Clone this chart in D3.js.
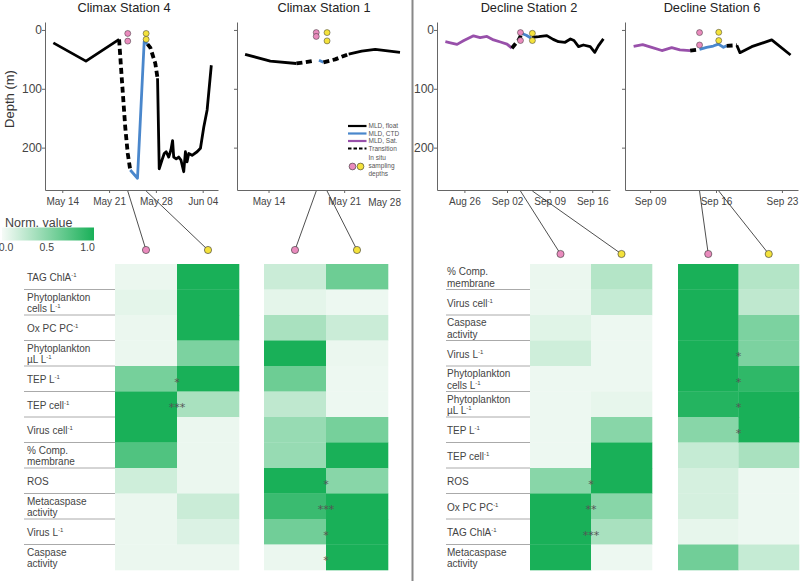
<!DOCTYPE html>
<html><head><meta charset="utf-8">
<script src="https://cdn.jsdelivr.net/npm/d3@7"></script>
<style>body{margin:0;background:#fff}svg{display:block;font-family:"Liberation Sans",Arial,sans-serif}</style>
</head><body><svg id="c" width="800" height="581"></svg>
<script>
// ---------------- DATA ----------------
// Mixed-layer depth (m) time series, [time, depth]
const c4FloatA = [["2016-05-12T16",22],["2016-05-17T13",53],["2016-05-22T12",16]];
const c4TransA = [["2016-05-22T12",16],["2016-05-22T22",85],["2016-05-23T10",165],["2016-05-23T19",210],["2016-05-24T04",238]];
const c4Ctd    = [["2016-05-24T04",238],["2016-05-25T06",252],["2016-05-26T06",20],["2016-05-26T18",24]];
const c4TransB = [["2016-05-26T18",24],["2016-05-27T04",30],["2016-05-27T22",57],["2016-05-28T06",82]];
const c4FloatB = [["2016-05-28T06",82],["2016-05-28T12",236],["2016-05-28T22",221],["2016-05-29T06",210],["2016-05-29T13",207],["2016-05-29T22",216],["2016-05-30T06",204],["2016-05-30T12",188],["2016-05-30T16",216],["2016-05-31T01",219],["2016-05-31T10",216],["2016-05-31T18",221],["2016-06-01T04",241],["2016-06-01T10",207],["2016-06-01T16",224],["2016-06-01T22",210],["2016-06-02T10",213],["2016-06-03T04",207],["2016-06-03T16",201],["2016-06-04T04",165],["2016-06-04T16",136],["2016-06-05T07",60]];

const c1FloatA = [["2016-05-11T20",41.5],["2016-05-14T04",53],["2016-05-16T14",57]];
const c1TransA = [["2016-05-16T14",57],["2016-05-17T09",55],["2016-05-18T07",52]];
const c1Ctd    = [["2016-05-18T16",51.5],["2016-05-19T02",55]];
const c1TransB = [["2016-05-19T02",55],["2016-05-20T04",50],["2016-05-21T10",41]];
const c1FloatB = [["2016-05-21T10",41],["2016-05-22T15",36],["2016-05-23T21",33],["2016-05-26T04",38]];

const d2Sat    = [["2017-08-22T21",20],["2017-08-23T17",22],["2017-08-24T19",24.5],["2017-08-25T22",18],["2017-08-27T12",10],["2017-08-28T14",13],["2017-08-29T17",11],["2017-08-30T19",17],["2017-08-31T22",20.5],["2017-09-02T00",24],["2017-09-02T19",31]];
const d2Trans  = [["2017-09-02T19",31],["2017-09-03T22",17],["2017-09-04T11",6]];
const d2Ctd    = [["2017-09-04T11",6],["2017-09-05T04",9],["2017-09-05T22",13.6]];
const d2Float  = [["2017-09-06T02",12.5],["2017-09-07T05",11.4],["2017-09-08T13",9.7],["2017-09-09T14",16],["2017-09-10T11",20],["2017-09-11T13",21],["2017-09-12T10",15.3],["2017-09-13T00",18],["2017-09-13T18",28.4],["2017-09-14T13",25.6],["2017-09-15T16",28.4],["2017-09-16T10",38],["2017-09-17T00",27],["2017-09-17T20",15.3]];

const d6Sat    = [["2017-09-07T06",28],["2017-09-08T05",25],["2017-09-09T04",29.5],["2017-09-10T06",35],["2017-09-11T07",30],["2017-09-12T04",34],["2017-09-13T06",35]];
const d6TransA = [["2017-09-13T06",35],["2017-09-14T06",33]];
const d6Ctd    = [["2017-09-14T06",33],["2017-09-15T00",29.5],["2017-09-15T17",27.3],["2017-09-16T06",24],["2017-09-16T19",29.5],["2017-09-17T03",27]];
const d6TransB = [["2017-09-17T03",27],["2017-09-18T05",26]];
const d6Float  = [["2017-09-18T05",26],["2017-09-18T13",38.6],["2017-09-19T19",28.4],["2017-09-21T22",17],["2017-09-23T22",42.6]];

// In situ sampling: [time, depth, depth] -- first = pink, second = yellow
const c4Samples = [["2016-05-23T19",6,19],["2016-05-26T13",6,16]];
const c1Samples = [["2016-05-18T10",4.5,11],["2016-05-19T10",4.5,18.6]];
const d2Samples = [["2017-09-04T05",4.5,18],["2017-09-06T04",5.7,18]];
const d6Samples = [["2017-09-14T06",4.5,25.6],["2017-09-16T07",4,18]];

// Axis ticks
const depthTicks = [0,100,200];
const c4Ticks = ["2016-05-14T00","2016-05-21T00","2016-05-28T00","2016-06-04T00"];
const c1Ticks = ["2016-05-14T00","2016-05-21T00"];
const c1ExtraTick = "May 28";
const d2Ticks = ["2017-08-26T00","2017-09-02T00","2017-09-09T00","2017-09-16T00"];
const d6Ticks = ["2017-09-09T00","2017-09-16T00","2017-09-23T00"];
const legendTicks = [0,0.5,1];

// Heatmap rows
const climaxRows = ["TAG ChlA^-1","Phytoplankton|cells L^-1","Ox PC PC^-1","Phytoplankton|µL L^-1","TEP L^-1","TEP cell^-1","Virus cell^-1","% Comp.|membrane","ROS","Metacaspase|activity","Virus L^-1","Caspase|activity"];
const declineRows = ["% Comp.|membrane","Virus cell^-1","Caspase|activity","Virus L^-1","Phytoplankton|cells L^-1","Phytoplankton|µL L^-1","TEP L^-1","TEP cell^-1","ROS","Ox PC PC^-1","TAG ChlA^-1","Metacaspase|activity"];

// Normalized values (pink sample, yellow sample)
const c4Pink   = [0.05,0.08,0.05,0.05,0.58,1.0,1.0,0.75,0.18,0.05,0.05,0.05];
const c4Yellow = [1.0,1.0,1.0,0.55,1.0,0.35,0.05,0.05,0.05,0.2,0.12,0.05];
const c1Pink   = [0.2,0.08,0.35,1.0,0.62,0.25,0.43,0.43,1.0,0.85,0.6,0.05];
const c1Yellow = [0.62,0.04,0.2,0.05,0.04,0.04,0.58,1.0,0.5,1.0,1.0,1.0];
const d2Pink   = [0.05,0.05,0.1,0.18,0.04,0.04,0.04,0.04,0.5,1.0,1.0,1.0];
const d2Yellow = [0.3,0.22,0.04,0.04,0.04,0.07,0.5,1.0,1.0,0.5,0.35,0.04];
const d6Pink   = [1.0,1.0,1.0,1.0,1.0,0.95,0.5,0.22,0.15,0.15,0.07,0.6];
const d6Yellow = [0.3,0.25,0.55,0.55,0.9,1.0,1.0,0.35,0.04,0.04,0.04,0.22];

// Significance
const c4Stars = ["","","","","*","***","","","","","",""];
const c1Stars = ["","","","","","","","","*","***","*","*"];
const d2Stars = ["","","","","","","","","*","**","***",""];
const d6Stars = ["","","","*","*","*","*","","","","",""];

// ---------------- DRAW ----------------
const svg = d3.select("#c");
const parseT = d3.timeParse("%Y-%m-%dT%H");
const fmt = d3.timeFormat("%b %d");
const P = a => a.map(d => [parseT(d[0]), d[1]]);
const col = {float:"#000", ctd:"#4a87cc", sat:"#9850aa", trans:"#000"};
const sampleCol = ["#e98bbd","#f4e23c"];
const green = d3.scaleLinear().domain([0,1]).range(["#f6fbf7","#19b058"]);
const y = d3.scaleLinear().domain([-13.5, 272]).range([22, 190]);

const panels = [
  {title:"Climax Station 4", tx:124, x0:45, x1:218, dom:["2016-05-11T10","2016-06-06T07"], ticks:c4Ticks, yLab:true,
   segs:[["float",c4FloatA],["trans",c4TransA],["ctd",c4Ctd],["trans",c4TransB],["float",c4FloatB]], samples:c4Samples,
   heat:[115,239], dotY:250, vals:[c4Pink,c4Yellow], stars:c4Stars},
  {title:"Climax Station 1", tx:324, x0:237, x1:400, dom:["2016-05-11T02","2016-05-26T04"], ticks:c1Ticks, yLab:false,
   segs:[["float",c1FloatA],["trans",c1TransA],["ctd",c1Ctd],["trans",c1TransB],["float",c1FloatB]], samples:c1Samples,
   heat:[264,388], dotY:250, vals:[c1Pink,c1Yellow], stars:c1Stars},
  {title:"Decline Station 2", tx:529, x0:437, x1:610, dom:["2017-08-21T12","2017-09-18T22"], ticks:d2Ticks, yLab:true,
   segs:[["sat",d2Sat],["trans",d2Trans],["ctd",d2Ctd],["float",d2Float]], samples:d2Samples,
   heat:[530,652], dotY:254, vals:[d2Pink,d2Yellow], stars:d2Stars},
  {title:"Decline Station 6", tx:712, x0:625, x1:798, dom:["2017-09-06T08","2017-09-24T17"], ticks:d6Ticks, yLab:false,
   segs:[["sat",d6Sat],["trans",d6TransA],["ctd",d6Ctd],["trans",d6TransB],["float",d6Float]], samples:d6Samples,
   heat:[678,799], dotY:254, vals:[d6Pink,d6Yellow], stars:d6Stars}
];

const rowBand = d3.scaleBand().domain(d3.range(12)).range([264, 570]);

panels.forEach((p, pi) => {
  const x = d3.scaleTime().domain(p.dom.map(parseT)).range([p.x0, p.x1]);
  const g = svg.append("g");
  g.append("text").attr("x", p.tx).attr("y", 12).attr("text-anchor","middle")
    .attr("font-size", 12.8).attr("fill","#222").text(p.title);

  const xa = d3.axisBottom(x).tickValues(p.ticks.map(parseT)).tickFormat(fmt)
    .tickSize(3).tickPadding(5).tickSizeOuter(0);
  const gx = g.append("g").attr("transform","translate(0,190)").call(xa);
  gx.selectAll("text").attr("font-size",10).attr("fill","#444").attr("font-family","Liberation Sans, Arial, sans-serif");
  if (pi === 1) {
    gx.append("text").attr("x", p.x1 + 1).attr("y", 16).attr("text-anchor","end")
      .attr("font-size",10).attr("fill","#444").text(c1ExtraTick);
  }
  const ya = d3.axisLeft(y).tickValues(depthTicks).tickSize(3).tickPadding(0).tickSizeOuter(0)
    .tickFormat(p.yLab ? d3.format("d") : () => "");
  const gy = g.append("g").attr("transform",`translate(${p.x0},0)`).call(ya);
  gy.selectAll("text").attr("font-size",12).attr("fill","#444").attr("font-family","Liberation Sans, Arial, sans-serif");
  g.selectAll(".domain, .tick line").attr("stroke","#666");

  const line = d3.line().x(d => x(d[0])).y(d => y(d[1]));
  p.segs.forEach(([type, arr]) => {
    g.append("path").datum(P(arr)).attr("d", line).attr("fill","none")
      .attr("stroke", col[type]).attr("stroke-width", type === "trans" ? 3.8 : 2.8)
      .attr("stroke-dasharray", type === "trans" ? "6,3.5" : null)
      .attr("stroke-linejoin","round");
  });

  const hx = d3.scaleBand().domain([0,1]).range(p.heat);
  p.samples.forEach((s, i) => {
    const t = parseT(s[0]);
    g.append("line").attr("x1", x(t)).attr("y1", 191).attr("x2", hx(i) + hx.bandwidth()/2).attr("y2", p.dotY)
      .attr("stroke","#222").attr("stroke-width",0.8);
  });
  p.samples.forEach((s, i) => {
    const t = parseT(s[0]);
    s.slice(1).forEach(dep => {
      g.append("circle").attr("cx", x(t)).attr("cy", y(dep)).attr("r", 3)
        .attr("fill", sampleCol[i]).attr("stroke","#333").attr("stroke-width",0.5);
    });
    g.append("circle").attr("cx", hx(i) + hx.bandwidth()/2).attr("cy", p.dotY).attr("r", 3.6)
      .attr("fill", sampleCol[i]).attr("stroke","#333").attr("stroke-width",0.6);
  });

  p.vals.forEach((vals, ci) => {
    g.selectAll(null).data(vals).join("rect")
      .attr("x", hx(ci)).attr("width", hx.bandwidth() + 0.3)
      .attr("y", (d,ri) => rowBand(ri)).attr("height", rowBand.bandwidth() + 0.3)
      .attr("fill", d => green(d));
  });
  g.selectAll(null).data(p.stars).join("text")
    .attr("x", hx(1)).attr("y", (d,ri) => rowBand(ri) + rowBand.bandwidth()/2 + 7)
    .attr("text-anchor","middle").attr("font-family","DejaVu Sans, sans-serif")
    .attr("font-size",11).attr("fill","#555").text(d => d);
});

svg.append("text").attr("transform","translate(14,99) rotate(-90)").attr("text-anchor","middle")
  .attr("font-size",13).attr("fill","#333").text("Depth (m)");

function addLabel(sel, str, x, cy) {
  const lines = str.split("|");
  const base = lines.length === 1 ? [cy + 4.5] : [cy - 1.5, cy + 10];
  lines.forEach((ln, i) => {
    const t = sel.append("text").attr("x", x).attr("y", base[i]).attr("font-size",10).attr("fill","#444");
    const parts = ln.split("^");
    t.append("tspan").text(parts[0]);
    if (parts[1]) t.append("tspan").attr("dy", -4).attr("font-size", 6).text(parts[1]);
  });
}
[[climaxRows, 27, 24, 115], [declineRows, 447, 446, 530]].forEach(([rows, lx, sx0, sx1]) => {
  const g = svg.append("g");
  rows.forEach((r, i) => {
    addLabel(g, r, lx, rowBand(i) + rowBand.bandwidth()/2);
    if (i > 0) g.append("line").attr("x1", sx0).attr("x2", sx1)
      .attr("y1", rowBand(i)).attr("y2", rowBand(i)).attr("stroke","#aaa").attr("stroke-width",1);
  });
});

const defs = svg.append("defs");
const grad = defs.append("linearGradient").attr("id","gg");
grad.append("stop").attr("offset","0%").attr("stop-color", green(0));
grad.append("stop").attr("offset","100%").attr("stop-color", green(1));
svg.append("text").attr("x",5).attr("y",226.5).attr("font-size",12.5).attr("fill","#444").text("Norm. value");
svg.append("rect").attr("x",2).attr("y",227.5).attr("width",92).attr("height",13).attr("fill","url(#gg)");
const lx = d3.scaleLinear().domain([0,1]).range([6, 87.5]);
svg.selectAll(null).data(legendTicks).join("text").attr("x", d => lx(d)).attr("y", 251)
  .attr("text-anchor","middle").attr("font-size",10.5).attr("fill","#444").text(d3.format(".1f"));

const legItems = [["float","MLD, float"],["ctd","MLD, CTD"],["sat","MLD, Sat."],["trans","Transition"]];
const lg = svg.append("g");
legItems.forEach(([k, lab], i) => {
  const yy = 126 + i * 7.5;
  lg.append("line").attr("x1",348).attr("x2",366.5).attr("y1",yy).attr("y2",yy)
    .attr("stroke", col[k]).attr("stroke-width", 2.2)
    .attr("stroke-dasharray", k === "trans" ? "3.5,2" : null);
  lg.append("text").attr("x",368.5).attr("y",yy+2.3).attr("font-size",6.5).attr("fill","#555").text(lab);
});
["In situ","sampling","depths"].forEach((t, i) => {
  lg.append("text").attr("x",368.5).attr("y",160 + i*8).attr("font-size",6.5).attr("fill","#555").text(t);
});
sampleCol.forEach((c, i) => {
  lg.append("circle").attr("cx", 352.5 + i*8).attr("cy",166.5).attr("r",3.4)
    .attr("fill", c).attr("stroke","#333").attr("stroke-width",0.6);
});

svg.append("line").attr("x1",412.5).attr("x2",412.5).attr("y1",0).attr("y2",581)
  .attr("stroke","#888").attr("stroke-width",2);
</script></body></html>
